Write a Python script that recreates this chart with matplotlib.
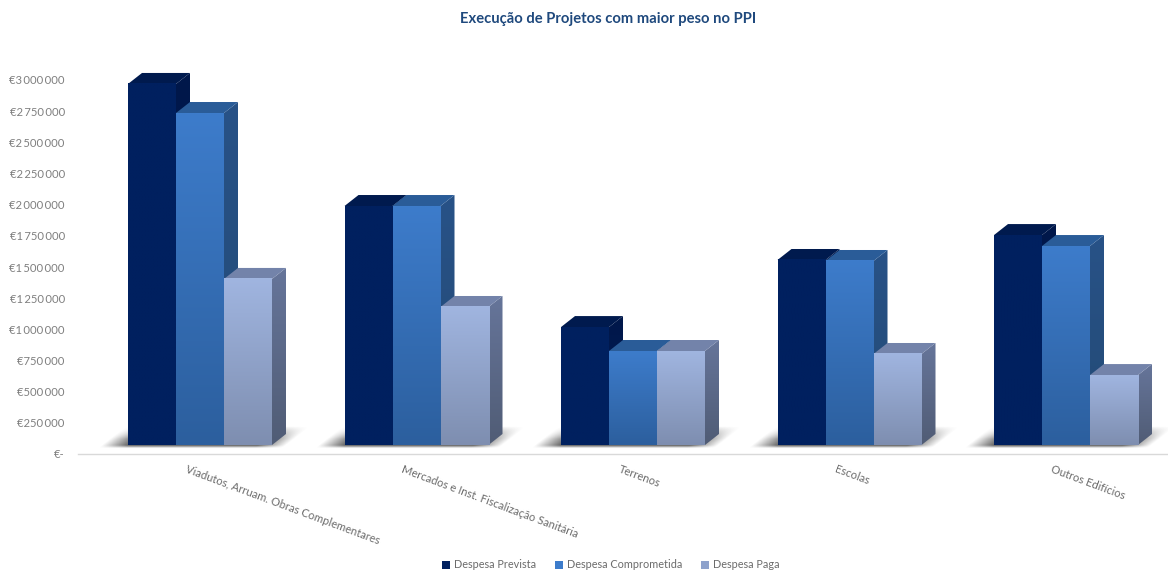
import numpy as np
import matplotlib
matplotlib.use('Agg')
import matplotlib.pyplot as plt
from matplotlib.colors import LinearSegmentedColormap
from matplotlib.patches import Patch, Polygon

plt.rcParams['font.family'] = ['Lato', 'DejaVu Sans']

categories = ['Viadutos, Arruam. Obras Complementares', 'Mercados e Inst. Fiscalização Sanitária',
              'Terrenos', 'Escolas', 'Outros Edifícios']
series_names = ['Despesa Prevista', 'Despesa Comprometida', 'Despesa Paga']
prevista = [2896000, 1917000, 946000, 1484000, 1684000]
comprometida = [2663000, 1917000, 754000, 1476000, 1596000]
paga = [1332000, 1107000, 754000, 730000, 561000]
yticks = list(range(0, 3000001, 250000))

# pixel scale of the reference
W, H = 1168, 571
PX_X = 1 / 216.5
PX_Y = 3000000 / 374
bar_w = 48 * PX_X
dx = 14 * PX_X
dy = 11 * PX_Y
base = 9 * PX_Y

# front top, front bottom, top face, side top, side bottom
styles = [
    ('#00205f', '#00205f', '#001a4e', '#00174a', '#001e58'),
    ('#3d7ccb', '#2c5f9e', '#2a5c98', '#285287', '#234a75'),
    ('#a0b5e0', '#7e8eb0', '#7383aa', '#66759a', '#505c75'),
]


def grad(ax, x0, x1, y0, y1, top, bottom, clip=None, zorder=3):
    cmap = LinearSegmentedColormap.from_list('g', [top, bottom])
    im = ax.imshow(np.linspace(0, 1, 128).reshape(-1, 1), cmap=cmap, aspect='auto',
                   extent=(x0, x1, y0, y1), zorder=zorder, interpolation='bilinear')
    if clip is not None:
        clip.set_transform(ax.transData)
        im.set_clip_path(clip)
    return im


def shadow(ax, left, right):
    # soft shadow on the floor, in pixels relative to the bars
    x = np.arange(left - 40 * PX_X, right + 60 * PX_X, PX_X)
    y = np.arange(base - 5 * PX_Y, base + 24 * PX_Y, PX_Y)
    xx, yy = np.meshgrid(x, y[::-1])
    h = (yy - base) / PX_Y
    u = (xx - left) / PX_X - h * 1.25
    r = (right - xx) / PX_X + h * 1.25
    a1 = np.clip((u + 26) / 28, 0, 1)
    a2 = np.clip((r + 14) / 28, 0, 1)
    a3 = np.clip((h + 3.5) / 3, 0, 1) * np.clip((19 - h) / 13, 0, 1)
    rgba = np.zeros(xx.shape + (4,))
    rgba[..., :3] = 0.25
    rgba[..., 3] = 0.85 * a1 * a2 * a3
    ax.imshow(rgba, aspect='auto', extent=(x[0], x[-1], y[0], y[-1]), zorder=2, interpolation='bilinear')


fig = plt.figure(figsize=(W / 100, H / 100), dpi=100)
ax = fig.add_axes([78 / W, (H - 454) / H, (W - 78) / W, 414 / H])

x = np.arange(len(categories))
for i in x:
    shadow(ax, i - 1.5 * bar_w, i + 1.5 * bar_w)

for j, values in enumerate([prevista, comprometida, paga]):
    front_top, front_bot, top_face, side_top, side_bot = styles[j]
    for i, v in zip(x, values):
        x0 = i + (j - 1.5) * bar_w
        x1 = x0 + bar_w
        y0 = base
        y1 = base + v
        side = Polygon([(x1, y0), (x1 + dx, y0 + dy), (x1 + dx, y1 + dy), (x1, y1)],
                       closed=True, facecolor='none', edgecolor='none')
        ax.add_patch(side)
        grad(ax, x1, x1 + dx, y0, y1 + dy, side_top, side_bot, clip=side, zorder=3 + j)
        ax.add_patch(Polygon([(x0, y1), (x1, y1), (x1 + dx, y1 + dy), (x0 + dx, y1 + dy)],
                             closed=True, facecolor=top_face, edgecolor='none', zorder=3 + j))
        grad(ax, x0, x1, y0, y1, front_top, front_bot, zorder=3.5 + j)

ax.set_xlim(-122 * PX_X, (W - 200) * PX_X)
ax.set_ylim(0, 414 * PX_Y)

for s in ['top', 'right', 'left']:
    ax.spines[s].set_visible(False)
ax.spines['bottom'].set_color('#d9d9d9')
ax.spines['bottom'].set_linewidth(1.0)

ax.set_xticks([])
ax.set_yticks(yticks)
ax.set_yticklabels(['€-' if t == 0 else '€' + f'{t:,}'.replace(',', '\u2009') for t in yticks],
                   fontsize=8.1, color='#7f7f7f')
ax.tick_params(axis='y', length=0, pad=9.5)

for i, name in zip(x, categories):
    ax.text(i - 12.5 * PX_X, -9.5 * PX_Y, name, rotation=-20.5, rotation_mode='anchor', ha='left', va='top',
            fontsize=8.05, color='#6b6b6b')

fig.text(608.5 / W, 1 - 19 / H, 'Execução de Projetos com maior peso no PPI', ha='center', va='center',
         fontsize=10.6, fontweight='bold', color='#1f497d')

handles = [Patch(facecolor=c, edgecolor='none', label=n) for c, n in zip(['#00205f', '#3d7ccb', '#8ea2cc'], series_names)]
fig.legend(handles=handles, loc='center', bbox_to_anchor=(611 / W, 1 - 565 / H), ncol=3, frameon=False,
           fontsize=7.8, labelcolor='#6b6b6b', handlelength=0.75, handleheight=0.75, handletextpad=0.35,
           columnspacing=1.75, borderpad=0)

fig.savefig('out.png', dpi=100)
